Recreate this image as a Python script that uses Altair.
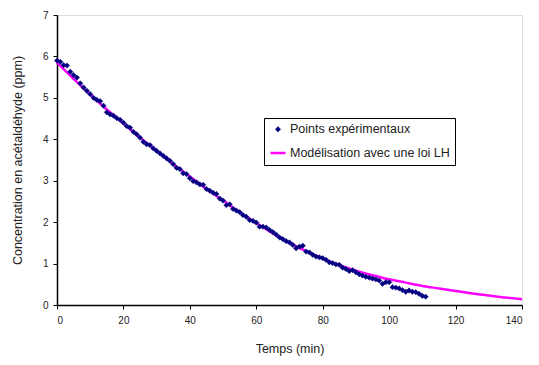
import altair as alt
import pandas as pd

# Experimental points: time (min) and concentration (ppm)
t_exp = list(range(0, 112))
c_exp = [
    5.90, 5.87, 5.79, 5.78, 5.63, 5.55, 5.49, 5.35, 5.25, 5.17,
    5.09, 5.00, 4.95, 4.92, 4.81, 4.65, 4.60, 4.57, 4.51, 4.47,
    4.40, 4.32, 4.28, 4.18, 4.12, 4.04, 3.94, 3.88, 3.86, 3.78,
    3.72, 3.66, 3.60, 3.54, 3.48, 3.40, 3.31, 3.28, 3.18, 3.16,
    3.06, 2.99, 2.96, 2.91, 2.90, 2.80, 2.76, 2.71, 2.68, 2.57,
    2.52, 2.41, 2.43, 2.32, 2.28, 2.24, 2.17, 2.13, 2.05, 2.03,
    1.99, 1.89, 1.89, 1.87, 1.81, 1.76, 1.70, 1.63, 1.59, 1.54,
    1.51, 1.45, 1.37, 1.41, 1.43, 1.29, 1.27, 1.21, 1.17, 1.15,
    1.13, 1.09, 1.03, 1.01, 0.98, 0.97, 0.90, 0.87, 0.82, 0.84,
    0.79, 0.74, 0.71, 0.68, 0.66, 0.64, 0.62, 0.59, 0.51, 0.55,
    0.55, 0.43, 0.42, 0.40, 0.36, 0.32, 0.35, 0.32, 0.31, 0.27,
    0.22, 0.20,
]

# LH model curve, read every 5 min
t_mod = list(range(0, 145, 5))
c_mod = [
    5.85, 5.46, 5.08, 4.72, 4.38, 4.04, 3.72, 3.40, 3.10, 2.80,
    2.52, 2.24, 1.98, 1.73, 1.50, 1.30, 1.12, 0.96, 0.83, 0.72,
    0.62, 0.54, 0.46, 0.40, 0.34, 0.28, 0.23, 0.18, 0.14,
]

series = ["Points expérimentaux", "Modélisation avec une loi LH"]
colors = ["#000080", "#FF00FF"]

df_exp = pd.DataFrame({"t": t_exp, "c": c_exp, "s": series[0]})
df_mod = pd.DataFrame({"t": t_mod, "c": c_mod, "s": series[1]})

font = "Liberation Sans"

x = alt.X("t:Q", title="Temps (min)",
          scale=alt.Scale(domain=[0, 140], nice=False),
          axis=alt.Axis(values=list(range(0, 141, 20)), grid=False,
                        domainColor="black", domainWidth=1.5, tickColor="black",
                        tickSize=4, labelPadding=6, titlePadding=17,
                        labelFontSize=10, titleFontSize=12.5, labelFont=font, titleFont=font,
                        titleFontWeight="normal", labelColor="#222", titleColor="#222"))
y = alt.Y("c:Q", title="Concentration en acétaldéhyde (ppm)",
          scale=alt.Scale(domain=[0, 7], nice=False),
          axis=alt.Axis(values=list(range(0, 8)), grid=False,
                        domainColor="black", domainWidth=1.5, tickColor="black",
                        tickSize=4, labelPadding=5, titlePadding=18,
                        labelFontSize=10, titleFontSize=12.5, labelFont=font, titleFont=font,
                        titleFontWeight="normal", labelColor="#222", titleColor="#222"))

stroke_scale = alt.Scale(domain=series, range=colors)
fill_scale = alt.Scale(domain=series, range=[colors[0], "transparent"])
shape_scale = alt.Scale(domain=series, range=["diamond", "stroke"])
size_scale = alt.Scale(domain=series, range=[28, 225])
sw_scale = alt.Scale(domain=series, range=[0.5, 2.5])

legend = alt.Legend(
    title=None, orient="none", legendX=207, legendY=103,
    strokeColor="black", fillColor="white", padding=5,
    labelFont=font, labelFontSize=12.5, labelColor="#222", labelOffset=3,
    rowPadding=8, labelLimit=300,
)

line = alt.Chart(df_mod).mark_line(interpolate="monotone").encode(
    x=x, y=y,
    stroke=alt.Stroke("s:N", scale=stroke_scale, legend=legend),
    strokeWidth=alt.StrokeWidth("s:N", scale=sw_scale, legend=legend),
)

points = alt.Chart(df_exp).mark_point(filled=True, opacity=1).encode(
    x=x, y=y,
    stroke=alt.Stroke("s:N", scale=stroke_scale, legend=legend),
    fill=alt.Fill("s:N", scale=fill_scale, legend=legend),
    shape=alt.Shape("s:N", scale=shape_scale, legend=legend),
    size=alt.Size("s:N", scale=size_scale, legend=legend),
    strokeWidth=alt.StrokeWidth("s:N", scale=sw_scale, legend=legend),
)

chart = alt.layer(line, points).properties(
    width=465, height=290,
    autosize=alt.AutoSizeParams(type="none"),
    padding={"left": 49, "top": 7, "right": 8, "bottom": 54},
).configure_view(stroke="#888", strokeWidth=1).configure(background="white")

chart.save("out.html", embed_options={"renderer": "svg", "actions": False})
